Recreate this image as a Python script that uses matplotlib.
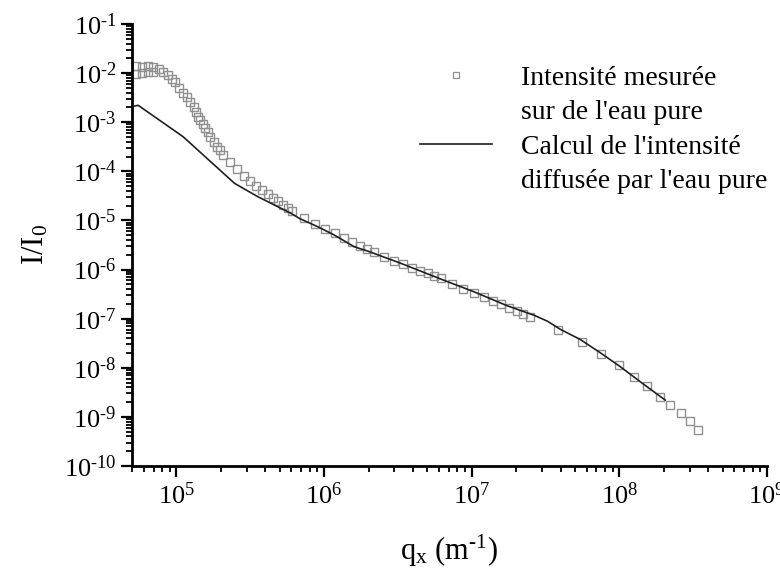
import numpy as np
import matplotlib.pyplot as plt
from matplotlib.lines import Line2D
from matplotlib.legend_handler import HandlerLine2D
from matplotlib.ticker import LogLocator, NullFormatter, FuncFormatter

# Police type Times pour tout le graphique
plt.rcParams['font.family'] = ['Liberation Serif', 'DejaVu Serif']
plt.rcParams['mathtext.fontset'] = 'custom'
plt.rcParams['mathtext.rm'] = 'Liberation Serif'
plt.rcParams['mathtext.it'] = 'Liberation Serif:italic'
plt.rcParams['axes.unicode_minus'] = False

# Intensité mesurée sur de l'eau pure (q en m^-1, I/I0)
q_mes = [5.34e4, 5.34e4, 5.87e4, 5.87e4, 6.40e4, 6.40e4, 6.99e4, 6.99e4,
         7.59e4, 8.08e4, 8.73e4, 9.35e4, 9.85e4, 1.048e5, 1.115e5, 1.181e5,
         1.238e5, 1.309e5, 1.359e5, 1.402e5, 1.453e5, 1.505e5, 1.570e5, 1.627e5,
         1.679e5, 1.786e5, 1.892e5, 1.961e5, 2.068e5, 2.291e5, 2.584e5, 2.867e5,
         3.148e5, 3.472e5, 3.811e5, 4.165e5, 4.523e5, 4.912e5, 5.260e5, 5.683e5,
         6.08e5, 7.29e5, 8.73e5, 1.020e6, 1.192e6, 1.359e6, 1.539e6, 1.760e6,
         1.952e6, 2.167e6, 2.555e6, 2.985e6, 3.435e6, 3.914e6, 4.453e6, 5.02e6,
         5.565e6, 6.173e6, 7.405e6, 8.79e6, 1.036e7, 1.211e7, 1.393e7, 1.588e7,
         1.797e7, 2.014e7, 2.236e7, 2.466e7, 3.853e7, 5.564e7, 7.556e7, 9.89e7,
         1.249e8, 1.539e8, 1.872e8, 2.211e8, 2.612e8, 3.018e8, 3.435e8]
I_mes = [1.415e-2, 9.45e-3, 1.35e-2, 1.02e-2, 1.375e-2, 1.07e-2, 1.31e-2, 1.07e-2,
         1.21e-2, 1.04e-2, 9.15e-3, 7.59e-3, 6.50e-3, 5.04e-3, 3.99e-3, 3.31e-3,
         2.54e-3, 2.07e-3, 1.59e-3, 1.29e-3, 1.11e-3, 9.06e-4, 7.51e-4, 6.22e-4,
         5.07e-4, 4.01e-4, 3.17e-4, 2.72e-4, 2.15e-4, 1.57e-4, 1.11e-4, 8.02e-5,
         6.34e-5, 5.02e-5, 4.16e-5, 3.40e-5, 2.90e-5, 2.52e-5, 2.06e-5, 1.76e-5,
         1.58e-5, 1.10e-5, 8.33e-6, 6.59e-6, 5.46e-6, 4.32e-6, 3.68e-6, 3.05e-6,
         2.62e-6, 2.30e-6, 1.82e-6, 1.51e-6, 1.28e-6, 1.09e-6, 9.45e-7, 8.37e-7,
         7.48e-7, 6.81e-7, 5.00e-7, 3.95e-7, 3.28e-7, 2.72e-7, 2.28e-7, 1.95e-7,
         1.67e-7, 1.45e-7, 1.24e-7, 1.09e-7, 5.86e-8, 3.29e-8, 1.90e-8, 1.12e-8,
         6.56e-9, 4.24e-9, 2.57e-9, 1.71e-9, 1.18e-9, 8.10e-10, 5.38e-10]

# Intensité calculée (diffusion par l'eau pure)
q_calc = [5.23e4, 5.51e4, 1.110e5, 2.477e5, 3.565e5, 5.98e5, 6.81e5, 9.07e5,
          1.174e6, 1.602e6, 1.974e6, 3.314e6, 6.173e6, 1.036e7, 1.742e7, 2.636e7,
          3.247e7, 3.993e7, 5.452e7, 7.437e7, 1.016e8, 1.387e8, 2.046e8]
I_calc = [2.14e-3, 2.21e-3, 5.07e-4, 5.69e-5, 3.04e-5, 1.395e-5, 1.10e-5, 7.44e-6,
          5.04e-6, 2.91e-6, 2.38e-6, 1.34e-6, 6.41e-7, 3.53e-7, 1.83e-7, 1.18e-7,
          8.93e-8, 6.05e-8, 3.75e-8, 2.02e-8, 1.05e-8, 5.19e-9, 2.20e-9]

label_mes = ["Intensité mesurée", "sur de l'eau pure"]
label_calc = ["Calcul de l'intensité", "diffusée par l'eau pure"]


# Marqueur de légende placé à droite du segment
class MarqueurDroite(HandlerLine2D):
    def get_xdata(self, legend, xdescent, ydescent, width, height, fontsize):
        xdata = [-xdescent, -xdescent + width]
        return xdata, [-xdescent + 0.87 * width]


# Etiquettes 10^n avec un tiret court pour le signe moins
def puissance(val, pos):
    n = int(round(np.log10(val)))
    if n < 0:
        return r'$10^{\text{-}%d}$' % (-n)
    return r'$10^{%d}$' % n


fig = plt.figure(figsize=(7.8, 5.69), dpi=100)
ax = fig.add_axes([0.1692, 0.181, 0.8141, 0.7768])

ax.plot(q_mes, I_mes, 's', markersize=6.3, markerfacecolor='none',
        markeredgecolor='#909090', markeredgewidth=1.0)
ax.plot(q_calc, I_calc, '-', color='#202020', linewidth=1.2)

ax.set_xscale('log')
ax.set_yscale('log')
ax.set_xlim(5e4, 1e9)
ax.set_ylim(1e-10, 1e-1)

ax.xaxis.set_major_locator(LogLocator(base=10, numticks=20))
ax.yaxis.set_major_locator(LogLocator(base=10, numticks=20))
ax.xaxis.set_minor_locator(LogLocator(base=10, subs=np.arange(2, 10), numticks=100))
ax.yaxis.set_minor_locator(LogLocator(base=10, subs=np.arange(2, 10), numticks=100))
ax.xaxis.set_major_formatter(FuncFormatter(puissance))
ax.yaxis.set_major_formatter(FuncFormatter(puissance))
ax.xaxis.set_minor_formatter(NullFormatter())
ax.yaxis.set_minor_formatter(NullFormatter())

# Axes : seulement gauche et bas, épais
for cote in ['top', 'right']:
    ax.spines[cote].set_visible(False)
for cote in ['left', 'bottom']:
    ax.spines[cote].set_linewidth(2)
ax.tick_params(which='major', direction='out', length=8, width=1.6, labelsize=19, pad=3)
ax.tick_params(which='minor', direction='out', length=4.5, width=1.3)
ax.tick_params(axis='x', which='major', pad=4)

ax.set_xlabel(r'q$_\mathregular{x}$ (m$^{\text{-}\mathregular{1}}$)', fontsize=22, labelpad=17)
ax.set_ylabel(r'I/I$_\mathregular{0}$', fontsize=22, labelpad=10)

# Légende : 4 lignes, symbole sur la première ligne de chaque entrée
vide = Line2D([], [], linestyle='none')
h_mes = Line2D([], [], linestyle='none', marker='s', markersize=5,
               markerfacecolor='none', markeredgecolor='#909090', markeredgewidth=0.9)
h_calc = Line2D([], [], color='#202020', linewidth=1.2)
leg = fig.legend([h_mes, vide, h_calc, vide],
                 [label_mes[0], label_mes[1], label_calc[0], label_calc[1]],
                 loc='upper left', bbox_to_anchor=(0.538, 0.885),
                 frameon=False, fontsize=20, handlelength=2.6, handletextpad=1.05,
                 labelspacing=0.32, borderpad=0, borderaxespad=0,
                 handler_map={h_mes: MarqueurDroite(numpoints=1)})

fig.savefig('out.png', dpi=100)
